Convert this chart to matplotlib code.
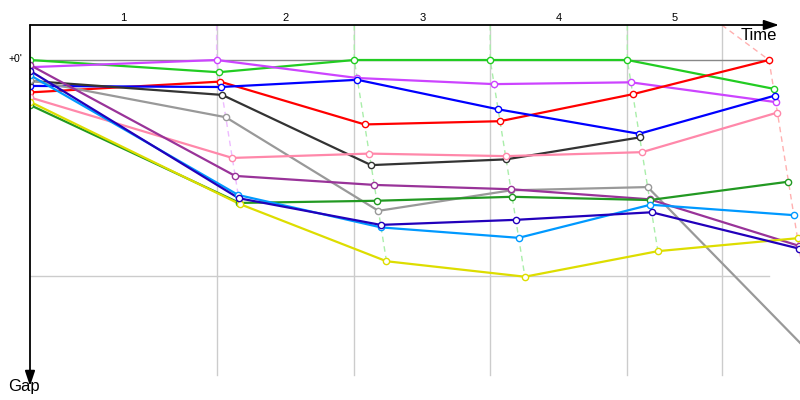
import matplotlib
matplotlib.use("Agg")
import matplotlib.pyplot as plt

# ---------------- data ----------------
stage_labels = ["1", "2", "3", "4", "5"]
leader_times = [324, 563, 799, 1037, 1283]      # leader's elapsed time at checkpoints 1..5 (s)
stage_marks = [324, 563, 799, 1037, 1201]       # vertical reference lines (s)
gap_lines = [0, 60]                               # horizontal reference lines (s)
gap_tick_labels = ["+0'", ""]

# gap (s) at start, checkpoints 1..5 (None = no value)
gap_green = [0.0, 3.4, 0.0, 0.0, 0.0, 8.0]
gap_violet = [2.0, 0.0, 5.0, 6.7, 6.2, 11.7]
gap_red = [9.0, 6.0, 17.9, 17.0, 9.5, 0.0]
gap_blue = [7.2, 7.5, 5.5, 13.7, 20.5, 9.9]
gap_black = [5.8, 9.7, 29.2, 27.6, 21.5, None]
gap_grey = [5.6, 15.9, 41.9, 36.2, 35.3, 83.4]
gap_pink = [10.4, 27.2, 26.0, 26.7, 25.6, 14.6]
gap_purple = [1.4, 32.2, 34.7, 35.9, 38.7, 51.6]
gap_darkgreen = [12.5, 39.7, 39.1, 38.0, 38.9, 33.8]
gap_lightblue = [4.2, 37.5, 46.5, 49.4, 40.2, 43.1]
gap_darkblue = [3.0, 38.4, 45.8, 44.4, 42.3, 52.4]
gap_yellow = [11.6, 40.0, 55.9, 60.2, 53.1, 49.5]

series = [
    (gap_green, "#22cc22"),
    (gap_violet, "#cc44ff"),
    (gap_red, "#ff0000"),
    (gap_blue, "#0000ff"),
    (gap_black, "#333333"),
    (gap_grey, "#999999"),
    (gap_pink, "#ff88aa"),
    (gap_purple, "#993399"),
    (gap_darkgreen, "#229922"),
    (gap_yellow, "#dddd00"),
    (gap_lightblue, "#0099ff"),
    (gap_darkblue, "#2200bb"),
]
checkpoint_line_colors = ["#eebbff", "#aaeeaa", "#aaeeaa", "#aaeeaa", "#ffb0b0"]

# ---------------- layout ----------------
W, H = 800, 400
X0, SX = 30, 0.576     # px origin, px per second (time axis)
Y0, SY = 60, 3.6       # px origin, px per second (gap axis)

def tx(px):
    return (px - X0) / SX

def gy(py):
    return (py - Y0) / SY

fig = plt.figure(figsize=(8, 4), dpi=100)
ax = fig.add_axes([X0 / W, 0, (W - X0) / W, 1])
ax.set_axis_off()
ax.set_xlim(0, tx(W))
ax.set_ylim(gy(H), gy(0))

g_top = gy(25)
g_bot = gy(375)

# vertical stage lines
for m in stage_marks:
    ax.plot([m, m], [g_top, g_bot], color="#cccccc", lw=1, zorder=1)

# horizontal gap lines
for g, c in zip(gap_lines, ["#888888", "#cccccc"]):
    ax.plot([0, leader_times[-1]], [g, g], color=c, lw=1, zorder=1)

# checkpoint dashed lines
for k, (T, m, c) in enumerate(zip(leader_times, stage_marks, checkpoint_line_colors)):
    gs = sorted(s[0][k + 1] for s in series if s[0][k + 1] is not None)
    xs = [m] + [T + g for g in gs]
    ys = [g_top] + gs
    ax.plot(xs, ys, color=c, lw=1, ls=(0, (4, 3)), zorder=1.5)

# series
for gaps, col in series:
    xs, ys = [0], [gaps[0]]
    for k, T in enumerate(leader_times):
        g = gaps[k + 1]
        if g is None:
            break
        xs.append(T + g)
        ys.append(g)
    ax.plot(xs, ys, color=col, lw=1.6, zorder=2, solid_joinstyle="round")
    ax.plot(xs, ys, ls="none", marker="o", ms=4.5, mfc="white", mec=col,
            mew=1.0, zorder=3)

# axes arrows
arrow_kw = dict(arrowstyle="-|>,head_length=0.9,head_width=0.3",
                color="black", lw=1.3, mutation_scale=10, shrinkA=0, shrinkB=0)
a1 = ax.annotate("", xy=(tx(779), g_top), xytext=(0, g_top), arrowprops=arrow_kw,
                 zorder=6, annotation_clip=False)
a2 = ax.annotate("", xy=(0, gy(386)), xytext=(0, g_top), arrowprops=arrow_kw,
                 zorder=6, annotation_clip=False)
a1.arrow_patch.set_clip_on(False)
a2.arrow_patch.set_clip_on(False)

# labels
fam = ["Liberation Sans", "DejaVu Sans"]
bounds = [0] + stage_marks
for i, lab in enumerate(stage_labels):
    ax.text((bounds[i] + bounds[i + 1]) / 2, gy(18), lab, ha="center", va="center",
            fontsize=8, family=fam)
for g, lab in zip(gap_lines, gap_tick_labels):
    if lab:
        ax.text(tx(22), g - 0.4, lab, ha="right", va="center", fontsize=7.5,
                family=fam, clip_on=False)
ax.text(tx(777), gy(35), "Time", ha="right", va="center", fontsize=12, family=fam)
ax.text(tx(24), gy(386), "Gap", ha="center", va="center", fontsize=12, family=fam,
        clip_on=False)

fig.savefig("out.png", dpi=100)
